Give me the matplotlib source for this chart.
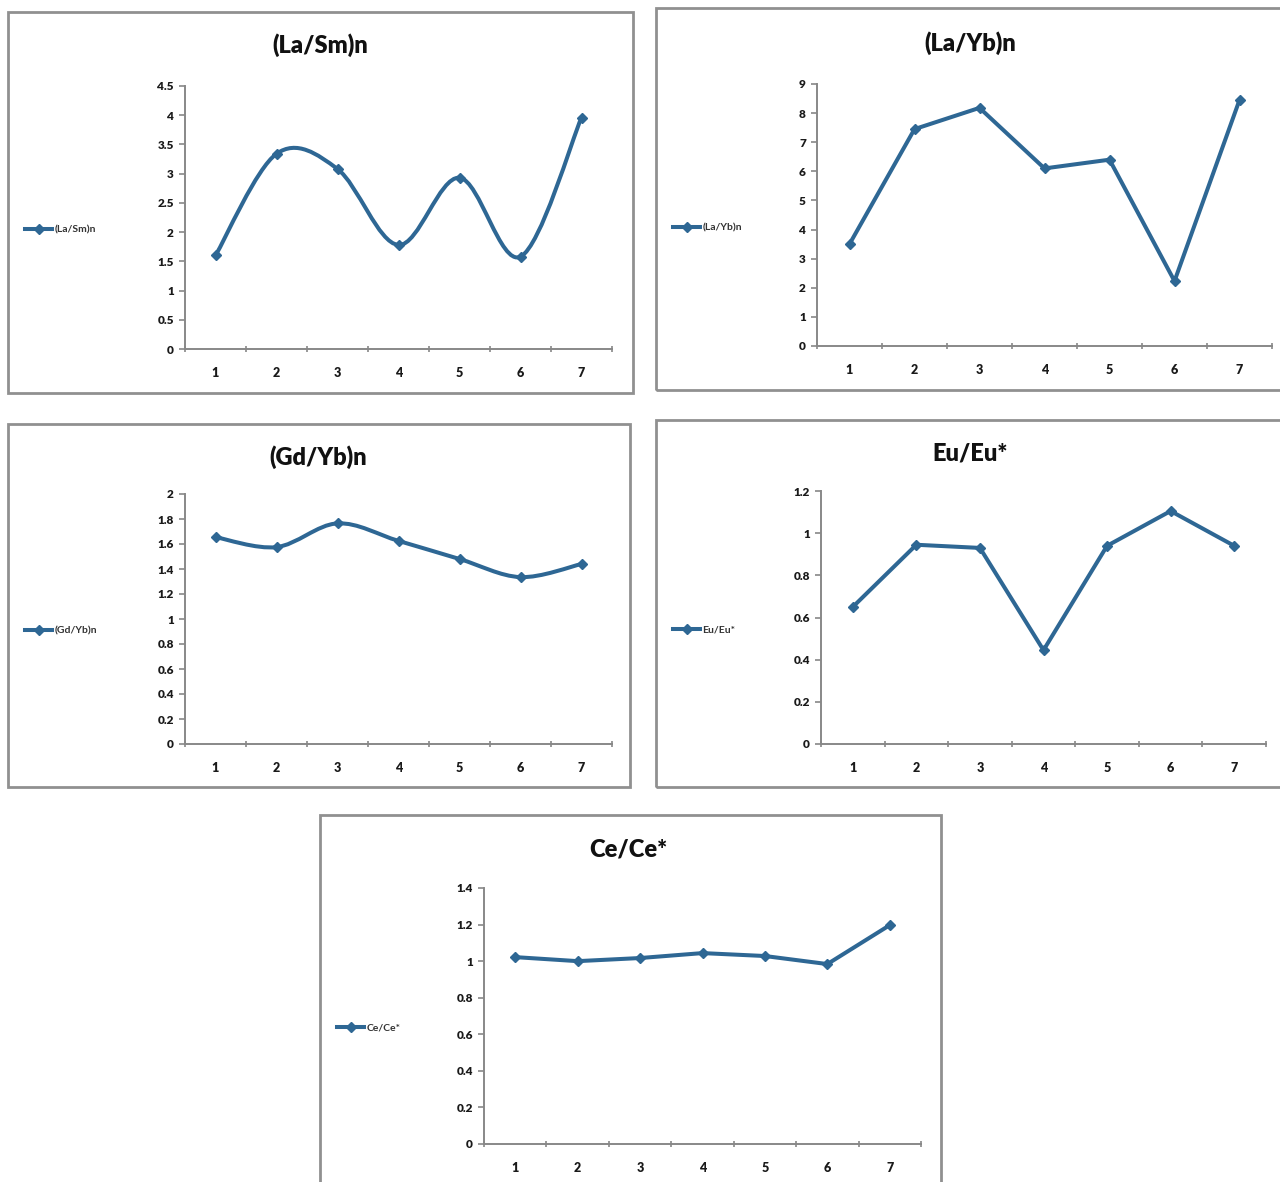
import numpy as np
import matplotlib.pyplot as plt
from matplotlib.path import Path
from matplotlib.patches import PathPatch, Rectangle
from matplotlib.lines import Line2D

plt.rcParams['font.family'] = ['Lato', 'DejaVu Sans']

# sample numbers on the x axis
samples = [1, 2, 3, 4, 5, 6, 7]

# values
la_sm = [1.60, 3.34, 3.08, 1.78, 2.93, 1.58, 3.96]
la_yb = [3.50, 7.45, 8.18, 6.10, 6.40, 2.23, 8.45]
gd_yb = [1.655, 1.575, 1.765, 1.625, 1.48, 1.335, 1.44]
eu_eu = [0.65, 0.945, 0.93, 0.445, 0.94, 1.105, 0.94]
ce_ce = [1.022, 1.0, 1.017, 1.044, 1.028, 0.984, 1.197]

titles = ['(La/Sm)n', '(La/Yb)n', '(Gd/Yb)n', 'Eu/Eu*', 'Ce/Ce*']
y_max = [4.5, 9, 2, 1.2, 1.4]
y_step = [0.5, 1, 0.2, 0.2, 0.2]
smooth = [True, False, True, False, False]

COLOR = '#2e6794'
W, H = 1280, 1182

# layout in pixels: axes box (left, top, right, bottom), panel frame, legend y
axes_px = [(185, 86, 612, 349), (817, 84, 1272, 346), (185, 494, 612, 744),
           (821, 491, 1266, 744), (484, 888, 921, 1144)]
frame_px = [(8, 12, 633, 393), (656, 8, 1290, 390), (8, 424, 630, 787),
            (656, 420, 1290, 787), (320, 815, 941, 1195)]
legend_px = [(25, 230), (673, 228), (25, 631), (673, 630), (337, 1028)]
title_px = [(320, 45), (970, 43), (318, 457), (970, 453), (628, 850)]


def excel_smooth(ax, x, y):
    # bezier pieces like excel's "smoothed line"
    pts = np.column_stack([x, y]).astype(float)
    n = len(pts)
    verts = [pts[0]]
    codes = [Path.MOVETO]
    for i in range(n - 1):
        p0 = pts[max(i - 1, 0)]
        p1 = pts[i]
        p2 = pts[i + 1]
        p3 = pts[min(i + 2, n - 1)]
        verts += [p1 + (p2 - p0) / 6, p2 - (p3 - p1) / 6, p2]
        codes += [Path.CURVE4] * 3
    ax.add_patch(PathPatch(Path(verts, codes), fill=False, edgecolor=COLOR,
                           lw=2.9, capstyle='round', joinstyle='round'))


fig = plt.figure(figsize=(W / 100, H / 100), dpi=100)
fig.patch.set_facecolor('white')

data = [la_sm, la_yb, gd_yb, eu_eu, ce_ce]
for k in range(5):
    fl, ft, fr, fb = frame_px[k]
    fig.add_artist(Rectangle((fl / W, 1 - fb / H), (fr - fl) / W, (fb - ft) / H,
                             transform=fig.transFigure, fill=False,
                             edgecolor='#909090', lw=2))

    l, t, r, b = axes_px[k]
    ax = fig.add_axes([l / W, 1 - b / H, (r - l) / W, (b - t) / H])
    vals = data[k]
    if smooth[k]:
        excel_smooth(ax, samples, vals)
        ax.plot(samples, vals, linestyle='none', marker='D', ms=5.5, color=COLOR)
    else:
        ax.plot(samples, vals, '-', marker='D', ms=5.5, color=COLOR, lw=2.9)

    ax.set_xlim(0.5, 7.5)
    ax.set_ylim(0, y_max[k])
    ax.set_yticks(np.arange(0, y_max[k] + y_step[k] / 2, y_step[k]))
    ax.set_yticklabels(['%g' % v for v in ax.get_yticks()], fontsize=8.5,
                       fontweight='heavy', color='#1a1a1a')
    ax.set_xticks(np.arange(0.5, 8, 1))
    ax.set_xticklabels([])
    ax.set_xticks(samples, minor=True)
    ax.set_xticklabels([str(s) for s in samples], minor=True, fontsize=9,
                       fontweight='heavy', color='#1a1a1a')
    ax.tick_params(axis='x', which='major', length=5, width=1.2, color='#888888',
                   direction='inout')
    ax.tick_params(axis='x', which='minor', length=0, pad=13)
    ax.tick_params(axis='y', length=4, width=1.2, color='#888888', pad=4)
    for s in ['top', 'right']:
        ax.spines[s].set_visible(False)
    for s in ['left', 'bottom']:
        ax.spines[s].set_color('#888888')
        ax.spines[s].set_linewidth(1.4)

    tx, ty = title_px[k]
    fig.text(tx / W, 1 - ty / H, titles[k], ha='center', va='center',
             fontsize=17, fontweight='heavy', color='#111111')

    lx, ly = legend_px[k]
    handle = Line2D([], [], color=COLOR, lw=2.9, marker='D', ms=5.5)
    leg = ax.legend([handle], [titles[k]], loc='center left',
                    bbox_to_anchor=(lx / W, 1 - ly / H), bbox_transform=fig.transFigure,
                    frameon=False, fontsize=7.5, handlelength=2.6, handletextpad=0.2,
                    borderpad=0, borderaxespad=0)
    for txt in leg.get_texts():
        txt.set_fontweight('bold')
        txt.set_color('#333333')

fig.savefig('out.png', dpi=100)
